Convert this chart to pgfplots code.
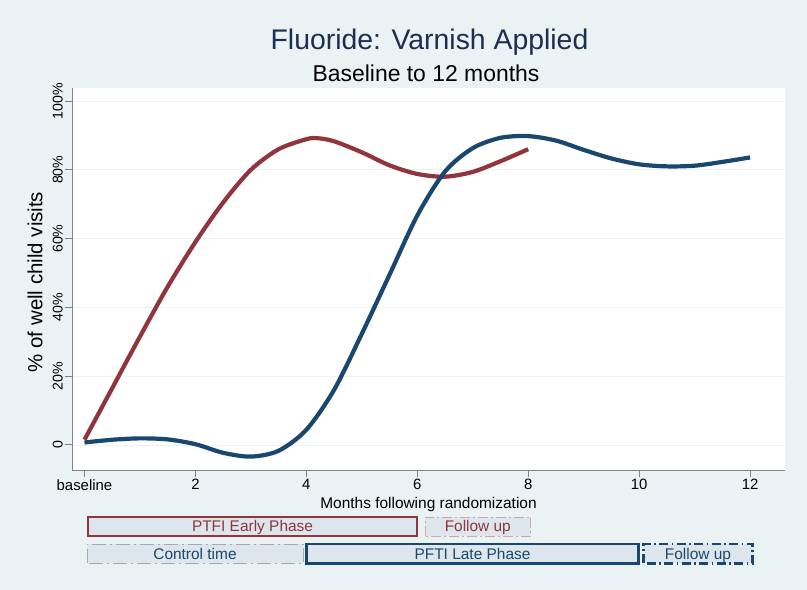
\documentclass[border=0pt]{standalone}
\usepackage{fontspec}
\setmainfont{Liberation Sans}
\usepackage{pgfplots}
\pgfplotsset{compat=1.18}
\definecolor{bgc}{RGB}{234,242,243}
\definecolor{boxc}{RGB}{220,230,236}
\definecolor{navyc}{RGB}{26,71,111}
\definecolor{maroonc}{RGB}{144,53,59}
\definecolor{titlec}{RGB}{30,45,82}
\definecolor{axisgray}{RGB}{130,130,130}
\definecolor{gridc}{RGB}{236,242,244}
\definecolor{pinkc}{RGB}{205,165,170}
\definecolor{ctrlc}{RGB}{160,170,178}
\newcommand{\fs}[1]{\fontsize{#1}{#1}\selectfont}
\begin{document}
\begin{tikzpicture}[x=1bp,y=1bp]
\fill[bgc] (0,0) rectangle (807,590);
\begin{axis}[
  at={(72bp,120bp)}, anchor=south west,
  scale only axis, width=713bp, height=382bp,
  xmin=-0.225, xmax=12.63, ymin=-7.3, ymax=103.8,
  axis x line*=bottom, axis y line*=left,
  axis line style={draw=axisgray, line width=0.8bp, -},
  axis background/.style={fill=white},
  tick align=outside, major tick length=7bp,
  tick style={draw=axisgray, line width=0.8bp},
  xtick={0,2,4,6,8,10,12}, xticklabels={baseline,2,4,6,8,10,12},
  ytick={0,20,40,60,80,100}, yticklabels={0,20\%,40\%,60\%,80\%,100\%},
  ymajorgrids, grid style={draw=gridc, line width=0.7bp},
  /pgf/number format/assume math mode=true,
  xticklabel style={font=\fs{15}, anchor=north, inner sep=2bp},
  yticklabel style={font=\fs{14.2}, rotate=90, anchor=south, inner sep=2bp},
  xlabel={Months following randomization},
  xlabel style={at={(axis description cs:0.5,0)}, anchor=base, yshift=-39bp, font=\fs{15.5}},
  ylabel={\% of well child visits},
  ylabel style={at={(axis description cs:0,0.5)}, anchor=center, yshift=37bp, xshift=-3bp, font=\fs{20.5}},
  clip=false,
]
\addplot[maroonc, line width=4.2bp, smooth] coordinates {
(0,1.5) (0.5,16.5) (1.0,31.5) (1.5,46) (2.0,59) (2.5,70.5) (3.0,80.0) (3.5,86.0)
(4.0,88.9) (4.2,89.2) (4.5,88.3) (5.0,85.1) (5.5,81.3) (6.0,78.8) (6.5,78.0)
(7.0,79.4) (7.5,82.5) (8.0,86.0)};
\addplot[navyc, line width=4.2bp, smooth] coordinates {
(0,0.7) (0.5,1.5) (1.0,1.9) (1.5,1.6) (2.0,0.2) (2.5,-2.3) (3.0,-3.4) (3.5,-1.7)
(4.0,4.4) (4.5,16) (5.0,32.3) (5.5,49.5) (6.0,66.7) (6.5,79.5) (7.0,86.3)
(7.5,89.3) (8.0,89.8) (8.5,88.5) (9.0,85.8) (9.5,83.3) (10.0,81.6) (10.5,81.0)
(11.0,81.2) (11.5,82.3) (12.0,83.6)};
\end{axis}
% titles
\node[anchor=base, font=\fs{28.5}, text=titlec, inner sep=0] at (429.5,540) {Fluoride: Varnish Applied};
\node[anchor=base, font=\fs{23}, text=black, inner sep=0] at (426,508) {Baseline to 12 months};
% phase boxes
\filldraw[fill=boxc, draw=maroonc, line width=2bp] (87.6,53.5) rectangle (417.4,73);
\node[anchor=base, font=\fs{15.5}, text=maroonc, inner sep=0] at (252.5,58.5) {PTFI Early Phase};
\filldraw[fill=boxc, draw=pinkc, line width=0.8bp, dash pattern=on 10bp off 3bp on 2bp off 3bp] (425,53.5) rectangle (530.7,73);
\node[anchor=base, font=\fs{15.5}, text=maroonc, inner sep=0] at (477.8,58.5) {Follow up};
\filldraw[fill=boxc, draw=ctrlc, line width=0.8bp, dash pattern=on 14bp off 4bp on 2bp off 4bp] (87,26.5) rectangle (303.3,46);
\node[anchor=base, font=\fs{15.5}, text=navyc, inner sep=0] at (195,30.5) {Control time};
\filldraw[fill=boxc, draw=navyc, line width=2.5bp] (306.7,26.5) rectangle (638.5,46);
\node[anchor=base, font=\fs{15.5}, text=navyc, inner sep=0] at (472.5,30.5) {PFTI Late Phase};
\filldraw[fill=boxc, draw=navyc, line width=2.8bp, dash pattern=on 9bp off 3.5bp on 1.5bp off 3.5bp] (643.5,26.5) rectangle (752.5,46);
\node[anchor=base, font=\fs{15.5}, text=navyc, inner sep=0] at (698,30.5) {Follow up};
\end{tikzpicture}
\end{document}
